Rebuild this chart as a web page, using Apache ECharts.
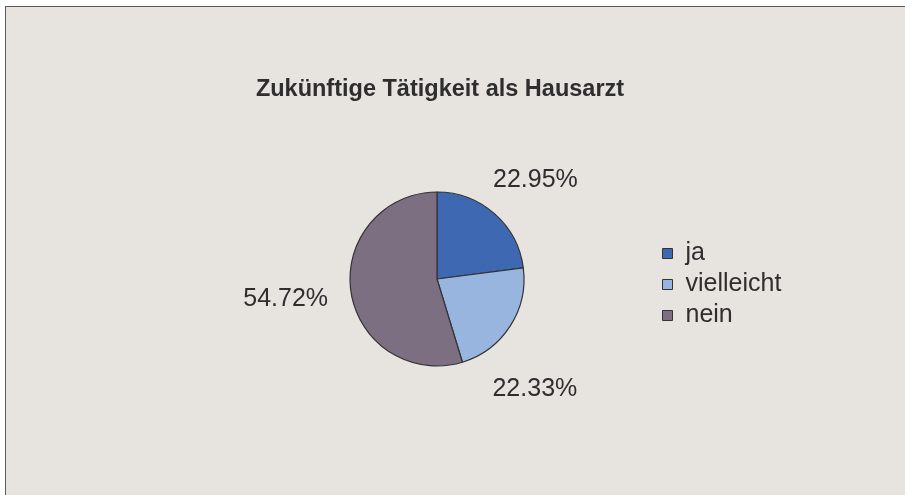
<!DOCTYPE html>
<html>
<head>
<meta charset="utf-8">
<script src="https://cdn.jsdelivr.net/npm/echarts@6/dist/echarts.min.js"></script>
<style>
  html, body { margin: 0; padding: 0; background: #ffffff; overflow: hidden; }
  #frame { position: absolute; left: 5px; top: 6px; width: 920px; height: 510px;
           background: #E7E3DF; border-left: 1.5px solid #5a5a5a; border-top: 1.5px solid #5a5a5a; }
  #chart { position: absolute; left: 0; top: 0; width: 905px; height: 495px; }
</style>
</head>
<body>
<div id="frame"></div>
<div id="chart"></div>
<script>
const titleText = 'Zukünftige Tätigkeit als Hausarzt';
const categories = ['ja', 'vielleicht', 'nein'];
const values = [22.95, 22.33, 54.72];
const colors = ['#3F68B3', '#97B5DF', '#7B6F81'];
const labelLineLengths = [53, 58, 66];
const labelNudges = [[6, 6], [-24, 32], [0, -2]];

const chart = echarts.init(document.getElementById('chart'), null, { renderer: 'canvas' });
const data = categories.map((name, i) => ({
  name: name,
  value: values[i],
  itemStyle: { color: colors[i] },
  labelLine: { length: labelLineLengths[i], length2: 0 }
}));

chart.setOption({
  backgroundColor: 'transparent',
  animation: false,
  title: {
    text: titleText,
    left: 440,
    textAlign: 'center',
    top: 78,
    padding: 0,
    textStyle: { fontFamily: 'Liberation Sans, Arial, sans-serif', fontSize: 23.5, fontWeight: 'bold', color: '#2e2e2e' }
  },
  legend: {
    orient: 'vertical',
    left: 662,
    top: 241,
    padding: 0,
    itemWidth: 10,
    itemHeight: 10,
    itemGap: 6,
    itemTextGap: 14,
    icon: 'rect',
    data: categories,
    itemStyle: { borderColor: '#333', borderWidth: 1 },
    textStyle: { fontFamily: 'Liberation Sans, Arial, sans-serif', fontSize: 25, lineHeight: 25, color: '#2e2e2e', padding: [0, 0, 0, 8] }
  },
  series: [{
    type: 'pie',
    center: [437, 279],
    radius: 87,
    startAngle: 90,
    clockwise: true,
    avoidLabelOverlap: false,
    itemStyle: { borderColor: '#333', borderWidth: 1.2 },
    label: {
      show: true,
      position: 'outside',
      formatter: (p) => p.value.toFixed(2) + '%',
      fontFamily: 'Liberation Sans, Arial, sans-serif',
      fontSize: 25,
      color: '#2e2e2e',
      distanceToLabelLine: 0
    },
    labelLine: { show: false },
    labelLayout: (params) => ({
      align: 'center',
      verticalAlign: 'middle',
      dx: labelNudges[params.dataIndex][0],
      dy: labelNudges[params.dataIndex][1]
    }),
    emphasis: { disabled: true },
    data: data
  }]
});
</script>
</body>
</html>
